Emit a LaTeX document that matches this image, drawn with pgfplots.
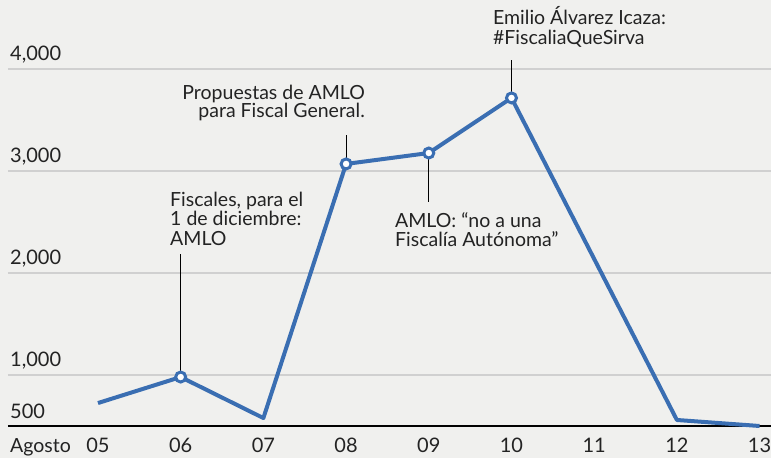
\documentclass[border=0pt]{standalone}
\usepackage{fontspec}
\setmainfont{Lato}
\usepackage{pgfplots}
\pgfplotsset{compat=1.18}
\definecolor{linecol}{RGB}{58,110,178}
\definecolor{gridcol}{RGB}{208,208,208}
\definecolor{bgcol}{RGB}{240,240,238}
\definecolor{txt}{RGB}{35,35,35}
\begin{document}
\fontsize{20pt}{18pt}\selectfont
\begin{tikzpicture}
\fill[bgcol] (0,0) rectangle (771pt,458pt);
\useasboundingbox (0,0) rectangle (771pt,458pt);
\begin{axis}[
  at={(8pt,32pt)}, anchor=south west, scale only axis,
  width=763pt, height=426pt,
  xmin=3.912, xmax=13.138, ymin=500, ymax=4676,
  axis line style={draw=none},
  xtick={5,...,13}, xticklabels={05,06,07,08,09,10,11,12,13},
  ytick={1000,2000,3000,4000}, yticklabels={{1,000},{2,000},{3,000},{4,000}},
  extra y ticks={500}, extra y tick labels={500},
  extra y tick style={grid style={black, line width=2pt}},
  ymajorgrids, grid style={gridcol, line width=1.5pt},
  major tick length=0pt,
  yticklabel style={anchor=base west, inner sep=0pt, xshift=2pt, yshift=8pt},
  xticklabel style={anchor=base, inner sep=0pt, yshift=-26pt},
  tick label style={font=\fontsize{20pt}{20pt}\selectfont, text=txt},
  clip=false,
]
\draw[black, line width=0.8pt] (axis cs:6,980) -- (axis cs:6,2190);
\draw[black, line width=0.8pt] (axis cs:8,3069) -- (axis cs:8,3353);
\draw[black, line width=0.8pt] (axis cs:9,3176) -- (axis cs:9,2696);
\draw[black, line width=0.8pt] (axis cs:10,3716) -- (axis cs:10,4088);
\addplot[linecol, line width=4pt, line join=round] coordinates {(5,725)(6,980)(7,578)(8,3069)(9,3176)(10,3716)(12,559)(13,500)};
\addplot[only marks, mark=*, mark size=5pt, mark options={fill=white, draw=linecol, line width=3pt}] coordinates {(6,980)(8,3069)(9,3176)(10,3716)};
\tikzset{ann/.style={inner sep=0pt, text=txt, font=\fontsize{19.5pt}{18pt}\selectfont}}
\node[ann, anchor=base west] at (axis cs:3.912,500) [xshift=2pt, yshift=-26pt] {Agosto};
\node[ann, anchor=base west] at (axis cs:5.871,2650) {Fiscales, para el};
\node[ann, anchor=base west] at (axis cs:5.871,2465) {1 de diciembre:};
\node[ann, anchor=base west] at (axis cs:5.871,2272) {AMLO};
\node[ann, anchor=base east] at (axis cs:8.229,3696) {Propuestas de AMLO};
\node[ann, anchor=base east] at (axis cs:8.229,3520) {para Fiscal General.};
\node[ann, anchor=base west] at (axis cs:8.591,2441) {AMLO: “no a una};
\node[ann, anchor=base west] at (axis cs:8.591,2255) {Fiscalía Autónoma”};
\node[ann, anchor=base west] at (axis cs:9.776,4431) {Emilio Álvarez Icaza:};
\node[ann, anchor=base west] at (axis cs:9.776,4235) {\#FiscaliaQueSirva};
\end{axis}
\end{tikzpicture}
\end{document}
